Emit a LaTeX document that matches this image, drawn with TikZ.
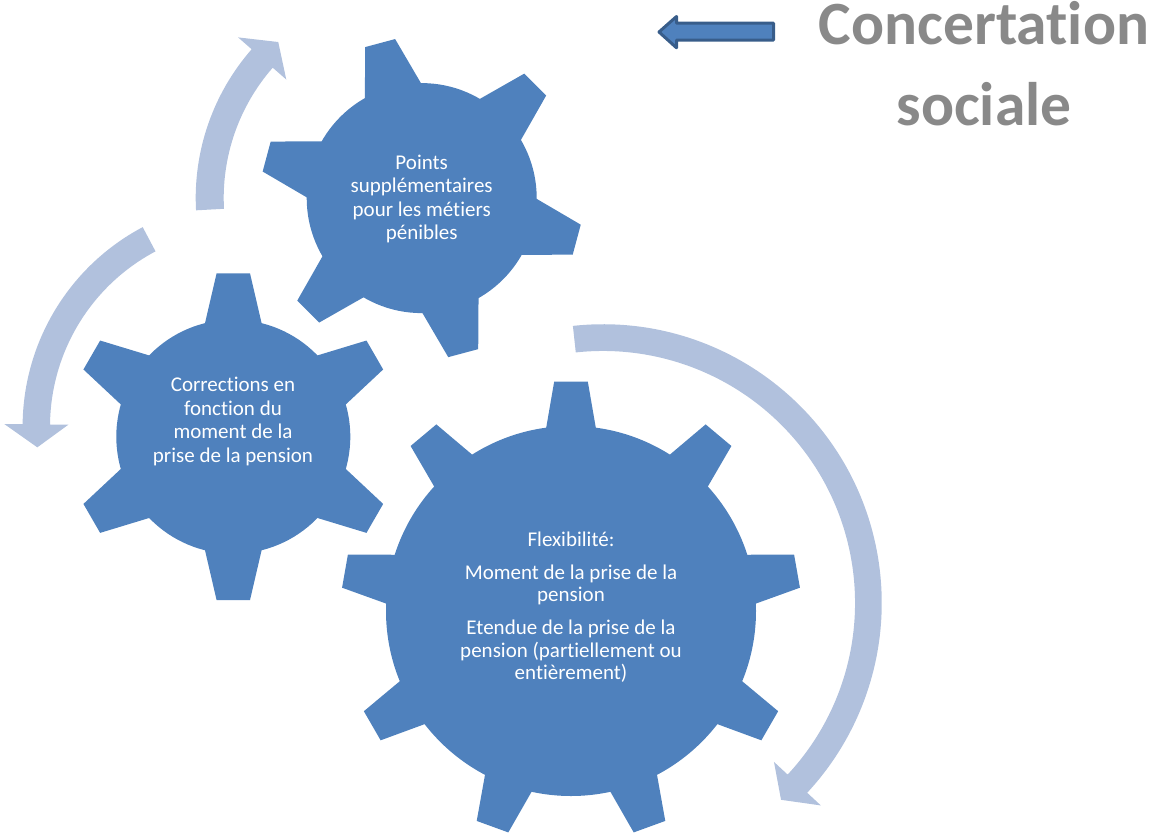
\documentclass[tikz,border=0pt]{standalone}
\usepackage{fontspec}
\setmainfont{Carlito}[Ligatures=NoCommon]
\usepackage{tikz}
\definecolor{gearblue}{RGB}{79,129,189}
\definecolor{gearline}{RGB}{56,93,138}
\definecolor{arrowfill}{RGB}{177,193,221}
\definecolor{titlegray}{RGB}{137,137,137}
\tikzset{
    pics/gear/.style args={#1/#2/#3/#4/#5/#6}{
    code = {
        % teeth / first tooth / tip radius / root radius / half width at tip / at root
        \pgfmathsetmacro{\gslope}{(#6-#5)/(#3-#4)}
        \pgfmathsetmacro{\gin}{#4-20}
        \pgfmathsetmacro{\gwin}{#6+20*\gslope}
        \fill[gearblue] (0,0) circle (#4);
        \foreach \k in {1,...,#1}{
            \fill[gearblue,rotate=#2+360/#1*(\k-1)] (\gin,-\gwin) -- (#3,-#5)
             -- (#3,#5) -- (\gin,\gwin) -- cycle;
        }
    }}
}
\tikzset{
    pics/cyclearrow/.style args={#1/#2/#3/#4}{
    code = {
        % start angle / end angle / radius / band width
        \pgfmathsetmacro{\asign}{sign(#2-#1)}
        \pgfmathsetmacro{\tipang}{#2+\asign*23/#3*180/pi}
        \pgfmathsetmacro{\rout}{#3+#4/2}
        \pgfmathsetmacro{\rin}{#3-#4/2}
        \pgfmathsetmacro{\rhi}{#3+32}
        \pgfmathsetmacro{\rlo}{#3-32}
        \fill[arrowfill] (#1:\rout) arc[start angle=#1, end angle=#2, radius=\rout]
         -- (#2:\rhi) -- (\tipang:#3) -- (#2:\rlo) -- (#2:\rin)
         arc[start angle=#2, end angle=#1, radius=\rin] -- cycle;
    }}
}

\begin{document}
\begin{tikzpicture}[x=1pt,y=1pt,
    gearlabel/.style={text=white,align=center,font=\fontsize{21}{23.6}\selectfont}]
    \useasboundingbox (0,0) rectangle (1157,-836);

    % gears
    \pic at (233.3,-436.7) {gear=6/30/163.4/117/16.7/27.5};
    \pic at (421.7,-198.1) {gear=6/45/160.5/115/15.5/28};
    \pic at (571,-611) {gear=9/90/229.5/185/16.8/24.5};

    % arrows
    \pic at (421.7,-198.1) {cyclearrow=183.1/138.8/212/28};
    \pic at (248.3,-426.6) {cyclearrow=117.9/179.4/212/27.4};
    \pic at (603,-603) {cyclearrow=96.2/-42.9/265.4/26.7};

    \node[gearlabel] (points) at (421.7,-198.9)
        {Points\\supplémentaires\\pour les métiers\\pénibles};
    \node[gearlabel] (corrections) at (233,-421.5)
        {Corrections en\\fonction du\\moment de la\\prise de la pension};
    \node[gearlabel,font=\fontsize{21}{22.6}\selectfont] (flex) at (571,-607.4)
        {Flexibilité:\\[10pt]Moment de la prise de la\\pension\\[10pt]Etendue de la prise de la\\pension (partiellement ou\\entièrement)};

    \node[text=titlegray,font=\fontsize{61.5}{81.5}\selectfont\bfseries,align=center]
        (title) at (984,-63.7) {Concertation\\sociale};

    \draw[gearline,fill=gearblue,line width=3pt,line join=round] (773.5,-23.2)
     -- (676.5,-23.2) -- (676.5,-16.5) -- (659,-32) -- (676.5,-47.8)
     -- (676.5,-40.2) -- (773.5,-40.2) -- cycle;
\end{tikzpicture}
\end{document}
